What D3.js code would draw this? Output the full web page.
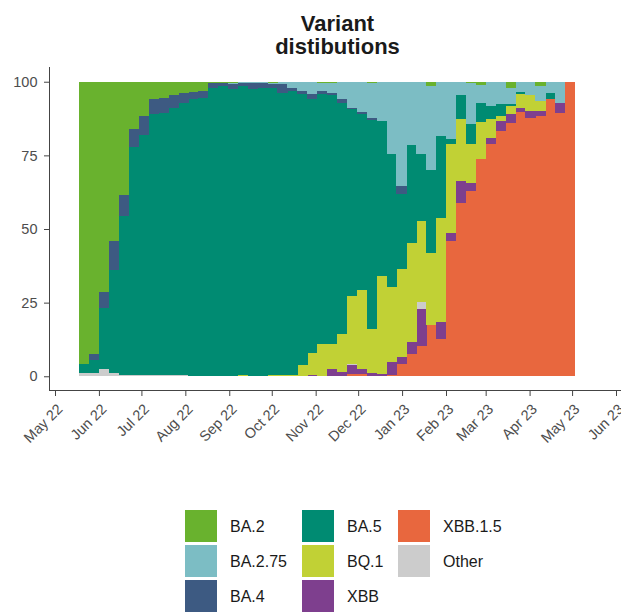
<!DOCTYPE html>
<html>
<head>
<meta charset="utf-8">
<script src="https://cdn.jsdelivr.net/npm/d3@7"></script>
<style>
  body { margin: 0; background: #fff; }
  svg { font-family: "Liberation Sans", Arial, sans-serif; }
  .tick_lbl { fill: #4d4d4d; font-size: 14.5px; }
  .legend_str { fill: #1a1a1a; font-size: 16px; }
  .title_str { fill: #1a1a1a; font-size: 22px; font-weight: bold; }
</style>
</head>
<body>
<svg id="chart" width="621" height="612"></svg>
<script>
// week start dates (each bar covers 7 days)
var weeks = [
  "2022-05-18","2022-05-25","2022-06-01","2022-06-08","2022-06-15","2022-06-22","2022-06-29",
  "2022-07-06","2022-07-13","2022-07-20","2022-07-27","2022-08-03","2022-08-10","2022-08-17",
  "2022-08-24","2022-08-31","2022-09-07","2022-09-14","2022-09-21","2022-09-28","2022-10-05",
  "2022-10-12","2022-10-19","2022-10-26","2022-11-02","2022-11-09","2022-11-16","2022-11-23",
  "2022-11-30","2022-12-07","2022-12-14","2022-12-21","2022-12-28","2023-01-04","2023-01-11",
  "2023-01-18","2023-01-25","2023-02-01","2023-02-08","2023-02-15","2023-02-22","2023-03-01",
  "2023-03-08","2023-03-15","2023-03-22","2023-03-29","2023-04-05","2023-04-12","2023-04-19",
  "2023-04-26"
];

var variants = ["BA.2","BA.2.75","BA.4","BA.5","BQ.1","XBB","XBB.1.5","Other"];
// bottom -> top order of the stack
var stackOrder = ["XBB.1.5","XBB","Other","BQ.1","BA.5","BA.4","BA.2.75","BA.2"];
var colors = ["#69b22e","#7cbdc4","#3d5a82","#008b72","#c1d135","#7e3f8e","#e8673e","#cccccc"];

// percent of sequences per week
var ba2 = [95.7,92.3,71.3,54.0,38.6,16.0,11.6,5.7,5.4,4.6,3.7,3.5,3.1,0.5,0.5,0.5,0,0,0,0.4,
           0,0,0,0,0.4,0.4,0,0,0,0.4,0,0,0,0,0,1.4,0,0,0,0.4,1.0,0,0,2.2,0,0,1.6,0,0,0];
var ba275 = [0,0,0,0,0,0,0,0,0,0,0,0,0,0,0,0.3,0.3,0.5,0.3,0.3,0.9,2.0,3.1,4.3,2.7,3.3,5.9,8.8,
             10.3,11.8,13.4,24.5,35.5,21.6,24.5,28.4,18.5,19.6,4.6,14.1,6.1,8.2,7.7,5.5,3.5,4.6,
             4.9,3.9,7.1,0];
var ba4 = [0,2.2,5.6,9.9,7.1,6.2,6.6,5.4,5.1,4.2,3.4,2.2,2.3,1.5,1.0,1.5,1.2,2.1,1.9,1.4,2.8,
           1.1,1.2,1.4,1.2,0.9,1.2,0.4,0.8,0.8,0,0,2.5,0,0,0,0,0,0,0,0,0,0,0,0,0,0,0,0,0];
var ba5 = [3.1,4.3,20.7,35.0,53.8,77.3,81.5,88.5,89.1,90.9,92.6,94.1,94.4,98.0,98.5,97.7,98.0,
           97.4,97.8,97.4,95.8,96.6,92.0,86.4,84.6,84.3,78.4,63.5,59.6,70.8,52.5,45.1,25.7,33.2,
           22.9,28.4,27.8,1.7,8.2,6.5,6.6,4.6,3.9,0.5,0.8,0,0,1.8,0,0];
var bq1 = [0,0,0,0,0,0,0,0,0,0,0,0,0,0,0,0,0.5,0,0,0.5,0.5,0.3,3.7,7.4,11.1,8.8,13.1,23.0,26.7,
           15.2,33.3,25.6,29.9,33.5,27.5,24.4,35.2,30.1,21.0,13.4,12.7,6.2,1.8,2.9,4.5,5.3,3.4,
           0,0,0];
var xbb = [0,0,0,0,0,0,0,0,0,0,0,0,0,0,0,0,0,0,0,0,0,0,0,0.5,0,2.3,1.4,2.8,1.7,1.0,0.8,4.5,2.1,
           4.0,12.3,0,5.7,2.8,7.4,2.8,0,2.3,3.4,2.8,1.5,2.3,1.7,0,3.4,0];
var xbb15 = [0,0,0,0,0,0,0,0,0,0,0,0,0,0,0,0,0,0,0,0,0,0,0,0,0,0,0,0.9,0.9,0,0,0.3,4.3,7.7,
             10.4,17.4,12.8,45.8,58.8,62.8,73.6,78.7,83.2,86.1,89.7,87.8,88.4,94.3,89.5,100];
var other = [1.2,1.2,2.4,1.1,0.5,0.5,0.3,0.4,0.4,0.3,0.3,0.2,0.2,0,0,0,0,0,0,0,0,0,0,0,0,0,0,
             0.6,0,0,0,0,0,0,2.4,0,0,0,0,0,0,0,0,0,0,0,0,0,0,0];

var yTicks = [0, 25, 50, 75, 100];

var svg = d3.select("#chart");
var parseDate = d3.timeParse("%Y-%m-%d");
var seriesValues = [ba2, ba275, ba4, ba5, bq1, xbb, xbb15, other];

var rows = weeks.map(function(w, i) {
  var row = { date: parseDate(w) };
  variants.forEach(function(v, j) { row[v] = seriesValues[j][i]; });
  return row;
});

var color = d3.scaleOrdinal().domain(variants).range(colors);

var x = d3.scaleTime()
  .domain([new Date(2022, 4, 1), new Date(2023, 5, 1)])
  .range([55, 616]);
var y = d3.scaleLinear()
  .domain([-5, 105])
  .range([391, 67]);

var stack = d3.stack().keys(stackOrder).offset(d3.stackOffsetExpand);
var layers = stack(rows);

// bars
svg.append("g")
  .selectAll("g")
  .data(layers)
  .join("g")
    .attr("fill", function(d) { return color(d.key); })
  .selectAll("rect")
  .data(function(d) { return d; })
  .join("rect")
    .attr("x", function(d) { return x(d.data.date); })
    .attr("width", function(d) { return x(d3.timeDay.offset(d.data.date, 7)) - x(d.data.date) + 0.4; })
    .attr("y", function(d) { return y(d[1] * 100); })
    .attr("height", function(d) { return Math.max(0, y(d[0] * 100) - y(d[1] * 100)); })
    .attr("shape-rendering", "crispEdges");

// y axis
var yAxis = svg.append("g")
  .attr("transform", "translate(49.5,0)")
  .call(d3.axisLeft(y).tickValues(yTicks).tickSize(5.5).tickPadding(6.5));
yAxis.select(".domain").remove();
yAxis.selectAll(".tick line").attr("stroke", "#444");
yAxis.selectAll(".tick text").attr("class", "tick_lbl").attr("font-family", null).attr("font-size", null);

// x axis
var xAxis = svg.append("g")
  .attr("transform", "translate(0,390.5)")
  .call(d3.axisBottom(x)
    .ticks(d3.timeMonth.every(1))
    .tickSize(5.5)
    .tickFormat(d3.timeFormat("%b %y")));
xAxis.select(".domain").remove();
xAxis.selectAll(".tick line").attr("stroke", "#444");
xAxis.selectAll(".tick text")
  .attr("class", "tick_lbl")
  .attr("font-family", null)
  .attr("font-size", null)
  .attr("text-anchor", "end")
  .attr("x", 0).attr("y", 0).attr("dy", 0)
  .attr("transform", "translate(8,19.5) rotate(-45)");

// axis lines
svg.append("line")
  .attr("x1", 49.5).attr("y1", 67)
  .attr("x2", 49.5).attr("y2", 391)
  .attr("stroke", "#444").attr("stroke-width", 1);
svg.append("line")
  .attr("x1", 49).attr("y1", 390.5)
  .attr("x2", 621).attr("y2", 390.5)
  .attr("stroke", "#444").attr("stroke-width", 1);

// title
svg.append("text")
  .attr("class", "title_str")
  .attr("x", 337.5).attr("y", 31)
  .attr("text-anchor", "middle")
  .text("Variant");
svg.append("text")
  .attr("class", "title_str")
  .attr("x", 337.5).attr("y", 53.5)
  .attr("text-anchor", "middle")
  .text("distibutions");

// legend, filled column by column
var legendCols = [185, 302, 398];
var legendTop = 510;
var keySize = 32;
var rowStep = 35;
var legend = svg.append("g");
variants.forEach(function(v, i) {
  var col = Math.floor(i / 3);
  var row = i % 3;
  var lx = legendCols[col];
  var ly = legendTop + row * rowStep;
  legend.append("rect")
    .attr("x", lx).attr("y", ly)
    .attr("width", keySize).attr("height", keySize)
    .attr("fill", color(v));
  legend.append("text")
    .attr("class", "legend_str")
    .attr("x", lx + 45)
    .attr("y", ly + keySize / 2 + 6)
    .text(v);
});
</script>
</body>
</html>
